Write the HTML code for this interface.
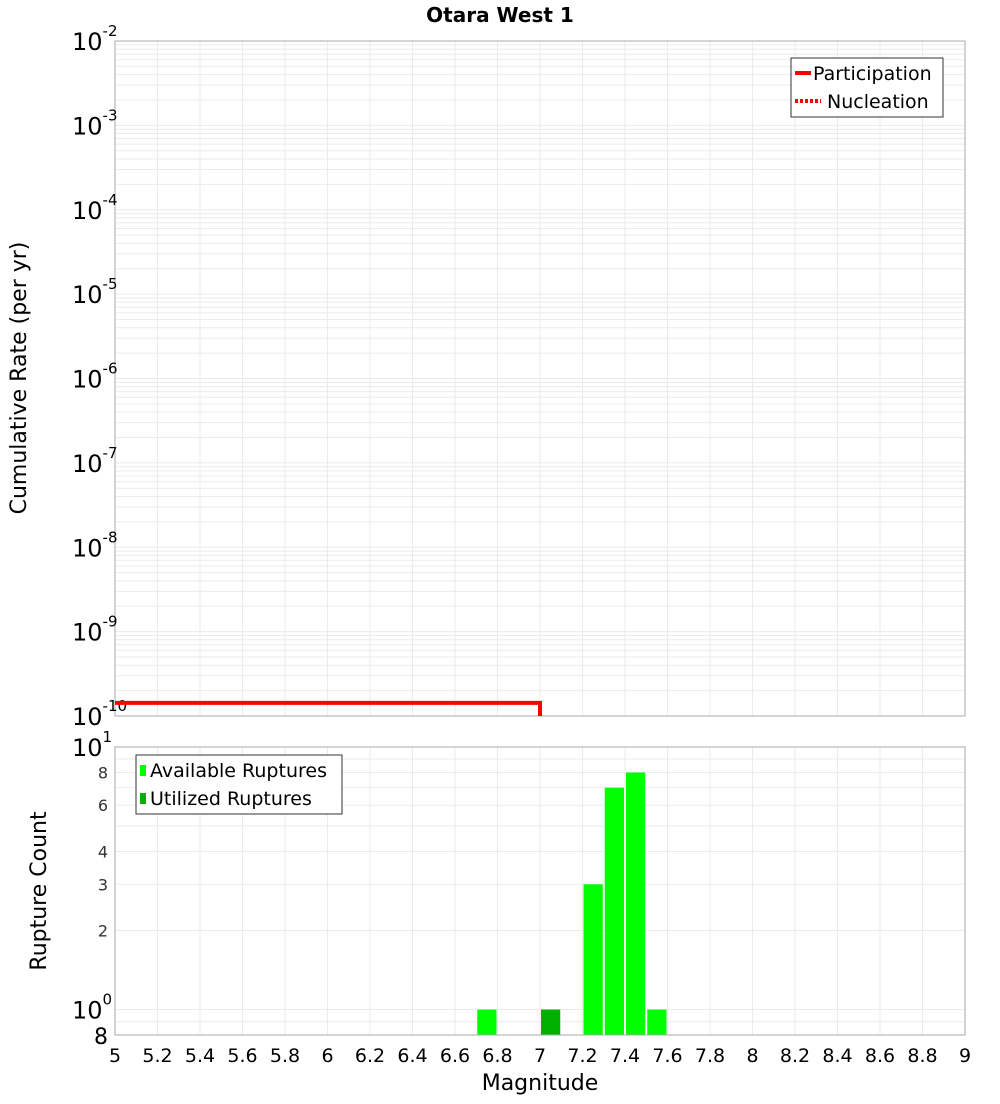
<!DOCTYPE html>
<html><head><meta charset="utf-8"><style>
body{margin:0;background:#fff;font-family:"DejaVu Sans","Liberation Sans",sans-serif}
svg text{font-family:"DejaVu Sans","Liberation Sans",sans-serif}
</style></head><body>
<svg id="c" width="1000" height="1100" xmlns="http://www.w3.org/2000/svg">
<text x="500" y="22" text-anchor="middle" font-size="20" font-weight="bold">Otara West 1</text>
<text transform="translate(26,378) rotate(-90)" text-anchor="middle" font-size="22">Cumulative Rate (per yr)</text>
<text transform="translate(46,891) rotate(-90)" text-anchor="middle" font-size="22">Rupture Count</text>
<text x="540" y="1090" text-anchor="middle" font-size="22">Magnitude</text>
<g id="topg"></g><g id="botg"></g>
</svg>
<script>
const rateMags=[5,7.0,7.0];
const rateVals=[1.43e-10,1.43e-10,1e-10];
const barMags=[6.75,7.05,7.25,7.35,7.45,7.55];
const barCounts=[1,1,3,7,8,1];
const barUtilized=[false,true,false,false,false,false];
const xTicks=[5,5.2,5.4,5.6,5.8,6,6.2,6.4,6.6,6.8,7,7.2,7.4,7.6,7.8,8,8.2,8.4,8.6,8.8,9];
const topExps=[-2,-3,-4,-5,-6,-7,-8,-9,-10];
const botTicks=[2,3,4,6,8];

const NS="http://www.w3.org/2000/svg";
const svgEl=document.getElementById('c');
const X0=115,X1=965;
const x=m=>X0+(m-5)/4*(X1-X0);
const T0=41,T1=716;
const yT=v=>T0+(-2-Math.log10(v))/8*(T1-T0);
const B0=747,B1=1035;
const yB=v=>B1-(Math.log10(v)-Math.log10(0.8))/(1-Math.log10(0.8))*(B1-B0);
function el(t,a,p){const e=document.createElementNS(NS,t);for(const k in a)e.setAttribute(k,a[k]);(p||svgEl).appendChild(e);return e;}

const topG=document.getElementById('topg'),botG=document.getElementById('botg');
for(let d=-10;d<-2;d++)for(let k=1;k<10;k++){const v=k*Math.pow(10,d);const yy=yT(v);
 const g=el('line',{x1:X0,x2:X1,y1:yy,y2:yy,stroke:'#ebebeb','stroke-width':1},topG);
 
 }
xTicks.forEach(t=>{const g=el('line',{x1:x(t),x2:x(t),y1:T0,y2:T1,stroke:'#ebebeb'},topG);
 
 });
let f=el('rect',{x:X0,y:T0,width:X1-X0,height:T1-T0,fill:'none',stroke:'#aaa'},topG);


topExps.forEach(e=>{const yy=yT(Math.pow(10,e));
 const t=el('text',{x:72,y:yy+9,'font-size':24},topG);t.textContent='10';
 
 
 const s=el('tspan',{dy:-14,'font-size':15},t);s.textContent=String(e);});
let pts=rateMags.map((m,i)=>x(m)+','+yT(rateVals[i])).join(' ');
let pl=el('polyline',{points:pts,fill:'none',stroke:'#f00','stroke-width':4},topG);


let lg=el('g',{},topG);


el('rect',{x:791,y:58,width:152,height:59,fill:'#fff',stroke:'#333'},lg);
el('line',{x1:795,x2:811,y1:73,y2:73,stroke:'#f00','stroke-width':4},lg);
let t1=el('text',{x:813,y:80,'font-size':19},lg);t1.textContent='Participation';
el('line',{x1:795,x2:821,y1:101,y2:101,stroke:'#f00','stroke-width':4,'stroke-dasharray':'3,2'},lg);
let t2=el('text',{x:827,y:108,'font-size':19},lg);t2.textContent='Nucleation';

[0.8,0.9,1,2,3,4,5,6,7,8,9,10].forEach(v=>{const g=el('line',{x1:X0,x2:X1,y1:yB(v),y2:yB(v),stroke:'#ebebeb'},botG);
 
 });
xTicks.forEach(t=>{const g=el('line',{x1:x(t),x2:x(t),y1:B0,y2:B1,stroke:'#ebebeb'},botG);
 
 
 const l=el('text',{x:x(t),y:1062,'text-anchor':'middle','font-size':19},botG);l.textContent=String(t);
 
 });
barMags.forEach((m,i)=>{const r=el('rect',{x:x(m-0.05)+1,y:yB(barCounts[i]),width:x(m+0.05)-x(m-0.05)-2,height:B1-yB(barCounts[i]),fill:barUtilized[i]?'#00b000':'#00ff00'},botG);
 
 });
f=el('rect',{x:X0,y:B0,width:X1-X0,height:B1-B0,fill:'none',stroke:'#aaa'},botG);


botTicks.forEach(v=>{const l=el('text',{x:108,y:yB(v)+6,'text-anchor':'end','font-size':16,fill:'#333'},botG);l.textContent=String(v);
 
 });
[[10,'1'],[1,'0']].forEach(([v,e])=>{const t=el('text',{x:72,y:yB(v)+9,'font-size':24},botG);t.textContent='10';
 
 
 const s=el('tspan',{dy:-14,'font-size':15},t);s.textContent=e;});
let e8=el('text',{x:108,y:1044,'text-anchor':'end','font-size':22},botG);e8.textContent='8';


lg=el('g',{},botG);


el('rect',{x:136,y:755,width:206,height:59,fill:'#fff',stroke:'#333'},lg);
el('rect',{x:140,y:765,width:6,height:11,fill:'#00ff00'},lg);
let t3=el('text',{x:150,y:777,'font-size':19},lg);t3.textContent='Available Ruptures';
el('rect',{x:140,y:793,width:6,height:11,fill:'#00b000'},lg);
let t4=el('text',{x:150,y:805,'font-size':19},lg);t4.textContent='Utilized Ruptures';
</script>
</body></html>
